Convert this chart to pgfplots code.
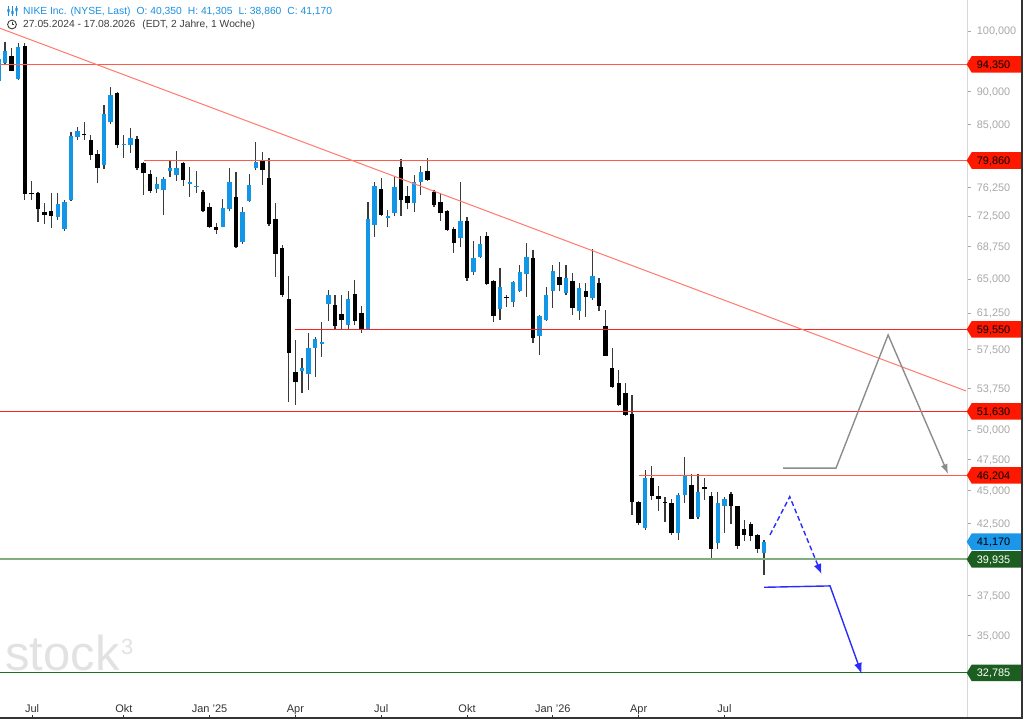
\documentclass[border=0pt]{standalone}
\usepackage{fontspec}
\setmainfont{Liberation Sans}
\usepackage{pgfplots}
\usepackage{pgfplotstable}
\pgfplotsset{compat=1.18}
\usetikzlibrary{arrows.meta}
\definecolor{upblue}{HTML}{1496E6}
\definecolor{wick}{HTML}{3A3A3A}
\definecolor{lvlred}{HTML}{FF5A4A}
\definecolor{lvlredb}{HTML}{FF2020}
\definecolor{trendred}{HTML}{FF7A6A}
\definecolor{lvlgreen}{HTML}{7FAF7F}
\definecolor{lvlgreend}{HTML}{1F6F1F}
\definecolor{flagred}{HTML}{FF1800}
\definecolor{flagblue}{HTML}{1C96E8}
\definecolor{flaggreen}{HTML}{1B5E20}
\definecolor{arrowgray}{HTML}{8C8C8C}
\definecolor{arrowblue}{HTML}{2B2BFF}
\definecolor{axisdark}{HTML}{333333}
\definecolor{sepgray}{HTML}{D8D8D8}
\definecolor{ylab}{HTML}{A8A8A8}
\definecolor{xlab}{HTML}{333333}
\definecolor{hdrblue}{HTML}{1A8FE0}
\definecolor{hdrgray}{HTML}{3C3C3C}
\definecolor{logogray}{HTML}{E2E2E2}
\newcommand{\tlf}{\fontsize{10.9}{12}\selectfont}

\pgfplotstableread{
k o h l c
-1 91.68 96.00 91.00 95.25
0 94.54 98.16 94.30 96.63
2 92.00 97.88 91.90 97.31
8 72.42 75.43 72.01 74.04
9 70.86 74.56 70.70 74.34
10 74.56 83.95 74.40 83.33
11 83.14 84.59 82.75 84.05
15 79.23 87.93 78.70 86.57
16 85.33 90.78 85.00 89.48
18 82.05 83.47 80.20 82.20
19 82.03 84.45 80.86 82.99
23 76.00 77.64 75.50 76.62
24 75.87 77.64 72.64 77.33
25 78.41 79.78 77.64 78.78
26 77.87 81.18 77.10 78.86
28 76.66 78.99 74.98 76.97
29 76.30 78.45 75.50 76.45
33 71.18 74.69 71.10 73.57
34 73.34 78.86 73.20 76.89
36 69.27 73.60 69.10 73.06
37 74.47 77.96 74.30 76.53
38 78.78 82.50 78.50 79.60
45 55.42 56.63 53.34 55.71
46 55.11 59.15 53.60 57.62
47 57.62 58.80 54.80 58.56
48 58.05 60.35 56.79 58.25
49 62.23 63.76 60.45 63.18
52 60.00 63.65 59.60 62.78
55 59.55 74.34 59.50 72.10
56 71.39 76.97 69.95 76.43
58 72.20 73.27 71.10 72.45
59 72.86 77.64 72.50 76.21
62 74.21 77.87 73.06 76.97
63 76.97 79.10 75.21 78.32
69 69.76 76.97 68.74 71.93
71 65.82 69.47 65.50 67.38
72 67.49 70.03 67.40 69.07
75 61.66 66.22 60.53 64.13
77 62.48 64.80 61.94 64.62
78 63.65 66.60 63.50 65.76
79 65.53 69.16 63.03 67.56
81 58.90 61.10 56.96 60.95
82 60.53 64.13 60.40 63.21
83 63.69 66.60 61.77 65.90
85 63.47 66.60 63.20 65.08
87 61.51 64.50 60.53 63.95
89 62.87 68.44 62.70 65.37
97 42.15 46.64 42.00 45.97
102 41.78 44.80 41.32 44.66
103 44.66 47.68 44.02 46.16
105 43.01 46.33 42.80 44.87
108 41.06 44.92 40.64 44.02
109 43.84 44.52 41.80 44.33
115 40.35 41.305 38.86 41.17
}\upcandles

\pgfplotstableread{
k o h l c
1 95.75 97.14 93.20 93.34
3 97.48 97.99 74.56 75.34
4 75.50 77.10 74.56 75.30
5 75.43 75.60 71.80 73.36
6 73.02 74.21 71.51 72.68
7 73.15 75.43 70.98 72.52
12 83.55 85.42 82.75 83.40
13 82.75 83.47 79.93 80.62
14 80.76 81.33 76.75 78.86
17 89.74 89.90 81.56 82.03
20 82.85 83.30 78.60 78.78
21 79.47 79.69 75.21 78.10
22 78.00 78.55 75.43 75.77
27 79.47 79.60 76.39 77.21
30 75.64 75.80 73.00 73.15
31 73.70 74.21 71.00 71.10
32 71.18 71.60 70.28 70.77
35 74.91 78.23 68.60 68.68
39 79.78 81.08 76.53 78.55
40 77.50 80.16 71.26 71.51
41 72.10 74.21 65.19 67.88
42 68.63 68.95 63.00 63.21
43 62.78 65.34 52.52 57.18
44 55.33 58.46 52.22 54.32
50 62.12 63.20 59.55 59.93
51 61.16 63.20 59.55 60.53
53 63.33 64.88 60.00 60.45
54 61.30 62.05 59.20 59.59
57 76.00 77.42 72.50 72.64
60 78.99 80.02 72.50 74.56
61 75.08 76.39 73.34 74.13
64 78.45 80.16 77.10 77.21
65 75.64 75.90 73.70 73.91
66 74.34 75.50 71.93 72.93
67 73.15 73.30 70.70 70.77
68 70.86 71.10 68.03 69.22
70 71.93 72.42 64.80 65.08
73 70.03 70.56 64.30 64.44
74 64.77 64.88 60.29 60.98
76 63.03 63.20 61.94 62.85
80 67.38 68.35 58.19 58.63
84 65.26 66.98 63.60 64.32
86 64.77 65.64 61.05 61.77
88 63.60 64.50 60.88 63.03
90 64.58 65.08 61.51 62.05
91 59.90 61.59 56.80 56.86
92 55.71 57.62 53.80 53.85
93 54.22 55.50 52.10 52.22
94 53.29 54.22 51.20 51.32
95 51.41 53.13 43.13 44.14
96 44.10 44.20 42.35 42.51
98 45.97 46.97 44.27 44.58
99 44.58 45.36 43.46 44.33
100 44.15 44.52 42.63 44.05
101 44.02 44.33 41.66 41.78
104 45.44 46.30 42.80 42.84
106 45.31 45.97 44.27 45.10
107 44.58 44.90 40.01 40.66
110 44.73 44.92 42.46 43.77
111 43.77 43.80 40.64 40.87
112 42.08 42.77 41.20 41.66
113 42.46 42.60 41.20 41.59
114 41.66 41.70 40.40 40.64
}\downcandles

\newcommand{\flag}[4]{%
  \fill[#3] (axis cs:145.86,#1) ++(-1pt,0pt) -- ++(5pt,8.3pt) -- ++(50.5pt,0pt) -- ++(0pt,-16.6pt) -- ++(-50.5pt,0pt) -- cycle;
  \node[anchor=base west, inner sep=0pt, xshift=9pt, yshift=-3.9pt, text=#4, font=\tlf] at (axis cs:145.86,#1) {#2};
}

\begin{document}
\begin{tikzpicture}
\useasboundingbox (0pt,0pt) rectangle (1024pt,-721pt);
\begin{axis}[
  at={(0pt,0pt)}, anchor=north west,
  scale only axis, width=967.7pt, height=718pt,
  xmin=-0.758, xmax=145.86,
  ymode=log, ymin=30.31, ymax=105.53,
  clip mode=individual,
  axis x line*=bottom, axis y line*=right,
  x axis line style={-, draw=axisdark, line width=1.1pt},
  y axis line style={-, draw=sepgray, line width=0.8pt},
  xminorticks=false, yminorticks=false,
  major tick length=3pt,
  xtick={4.1,18,31,44,57,70,83,96,109},
  xticklabels={Jul,Okt,Jan '25,Apr,Jul,Okt,Jan '26,Apr,Jul},
  xticklabel style={anchor=base, inner sep=0pt, yshift=5pt, text=xlab, font=\fontsize{11}{13}\selectfont},
  x tick style={draw=axisdark, line width=0.8pt},
  ytick={35,37.5,40,42.5,45,47.5,50,53.75,57.5,61.25,65,68.75,72.5,76.25,80,85,90,95,100},
  yticklabels={{35,000},{37,500},{40,000},{42,500},{45,000},{47,500},{50,000},{53,750},{57,500},{61,250},{65,000},{68,750},{72,500},{76,250},{80,000},{85,000},{90,000},{95,000},{100,000}},
  yticklabel style={anchor=base west, inner sep=0pt, xshift=9pt, yshift=-3.9pt, text=ylab, font=\tlf},
  y tick style={draw=ylab, line width=0.6pt, xshift=3pt},
]
% wicks
\addplot[draw=none, no markers, forget plot, error bars/.cd, y dir=plus, y explicit, error mark=none,
  error bar style={solid, line width=1.1pt, draw=wick}]
  table[x=k, y=l, y error expr=\thisrow{h}-\thisrow{l}] {\upcandles};
\addplot[draw=none, no markers, forget plot, error bars/.cd, y dir=plus, y explicit, error mark=none,
  error bar style={solid, line width=1.1pt, draw=wick}]
  table[x=k, y=l, y error expr=\thisrow{h}-\thisrow{l}] {\downcandles};
% bodies
\addplot[draw=none, no markers, forget plot, error bars/.cd, y dir=plus, y explicit, error mark=none,
  error bar style={solid, line width=4.5pt, draw=upblue}]
  table[x=k, y=o, y error expr=\thisrow{c}-\thisrow{o}] {\upcandles};
\addplot[draw=none, no markers, forget plot, error bars/.cd, y dir=plus, y explicit, error mark=none,
  error bar style={solid, line width=4.5pt, draw=black}]
  table[x=k, y=c, y error expr=\thisrow{o}-\thisrow{c}] {\downcandles};
% level lines
\addplot[color=lvlred, line width=1.2pt, no markers] coordinates {(-0.758,94.35) (145.86,94.35)};
\addplot[color=lvlred, line width=1.2pt, no markers] coordinates {(21.06,79.86) (145.86,79.86)};
\addplot[color=lvlredb, line width=1.4pt, no markers] coordinates {(43.98,59.55) (145.86,59.55)};
\addplot[color=lvlredb, line width=1.4pt, no markers] coordinates {(-0.758,51.63) (145.86,51.63)};
\addplot[color=lvlred, line width=1.3pt, no markers] coordinates {(96.0,46.204) (145.86,46.204)};
\addplot[color=lvlgreen, line width=1.8pt, no markers] coordinates {(-0.758,39.935) (145.86,39.935)};
\addplot[color=lvlgreend, line width=1.2pt, no markers] coordinates {(-0.758,32.785) (145.86,32.785)};
% trend line
\addplot[color=trendred, line width=1pt, no markers] coordinates {(-0.758,100.47) (145.6,53.50)};
% scenario arrows
\addplot[color=arrowgray, line width=1.4pt, no markers, -{Latex[length=10pt,width=7pt]}]
  coordinates {(117.9,46.78) (125.9,46.78) (133.8,58.97) (142.9,46.3)};
\addplot[color=arrowblue, line width=1.4pt, no markers, dash pattern=on 5pt off 3pt, -{Latex[length=10pt,width=8pt]}]
  coordinates {(115.9,41.66) (118.9,44.52) (123.7,38.93)};
\addplot[color=arrowblue, line width=1.4pt, no markers, -{Latex[length=11pt,width=8pt]}]
  coordinates {(115.0,38.04) (125.0,38.13) (129.8,32.72)};
% price flags
\flag{94.35}{94,350}{flagred}{black}
\flag{79.86}{79,860}{flagred}{black}
\flag{59.55}{59,550}{flagred}{black}
\flag{51.63}{51,630}{flagred}{black}
\flag{46.204}{46,204}{flagred}{black}
\flag{41.17}{41,170}{flagblue}{black}
\flag{39.935}{39,935}{flaggreen}{white}
\flag{32.785}{32,785}{flaggreen}{white}
\end{axis}
% frame
\draw[axisdark, line width=1.1pt] (0pt,-718pt) -- (1022pt,-718pt) -- (1022pt,0pt);
% header
\node[anchor=base west, inner sep=0pt, text=hdrblue, font=\fontsize{10.3}{12}\selectfont] at (23pt,-14pt)
  {NIKE Inc. (NYSE, Last)\hspace{6pt}O: 40,350\hspace{6pt}H: 41,305\hspace{6pt}L: 38,860\hspace{6pt}C: 41,170};
\node[anchor=base west, inner sep=0pt, text=hdrgray, font=\fontsize{10.3}{12}\selectfont] at (23pt,-27.5pt)
  {27.05.2024 - 17.08.2026\hspace{7pt}(EDT, 2 Jahre, 1 Woche)};
% header icons
\draw[hdrblue, line width=0.9pt] (8.5pt,-6pt) -- (8.5pt,-16pt) (12.5pt,-6pt) -- (12.5pt,-16pt) (16.5pt,-6pt) -- (16.5pt,-16pt);
\fill[hdrblue] (7.3pt,-9pt) rectangle (9.7pt,-12pt) (11.3pt,-11pt) rectangle (13.7pt,-14pt) (15.3pt,-8pt) rectangle (17.7pt,-11pt);
\draw[hdrgray, line width=0.9pt] (12pt,-24.5pt) circle (4.4pt);
\draw[hdrgray, line width=0.8pt] (12pt,-21.5pt) -- (12pt,-24.5pt) -- (14.3pt,-24.5pt);
% logo
\node[anchor=base west, inner sep=0pt, text=logogray, font=\fontsize{49}{49}\selectfont] at (5pt,-670pt) {stock};
\node[anchor=base west, inner sep=0pt, text=logogray, font=\fontsize{22}{22}\selectfont] at (121pt,-654pt) {3};
\end{tikzpicture}
\end{document}
